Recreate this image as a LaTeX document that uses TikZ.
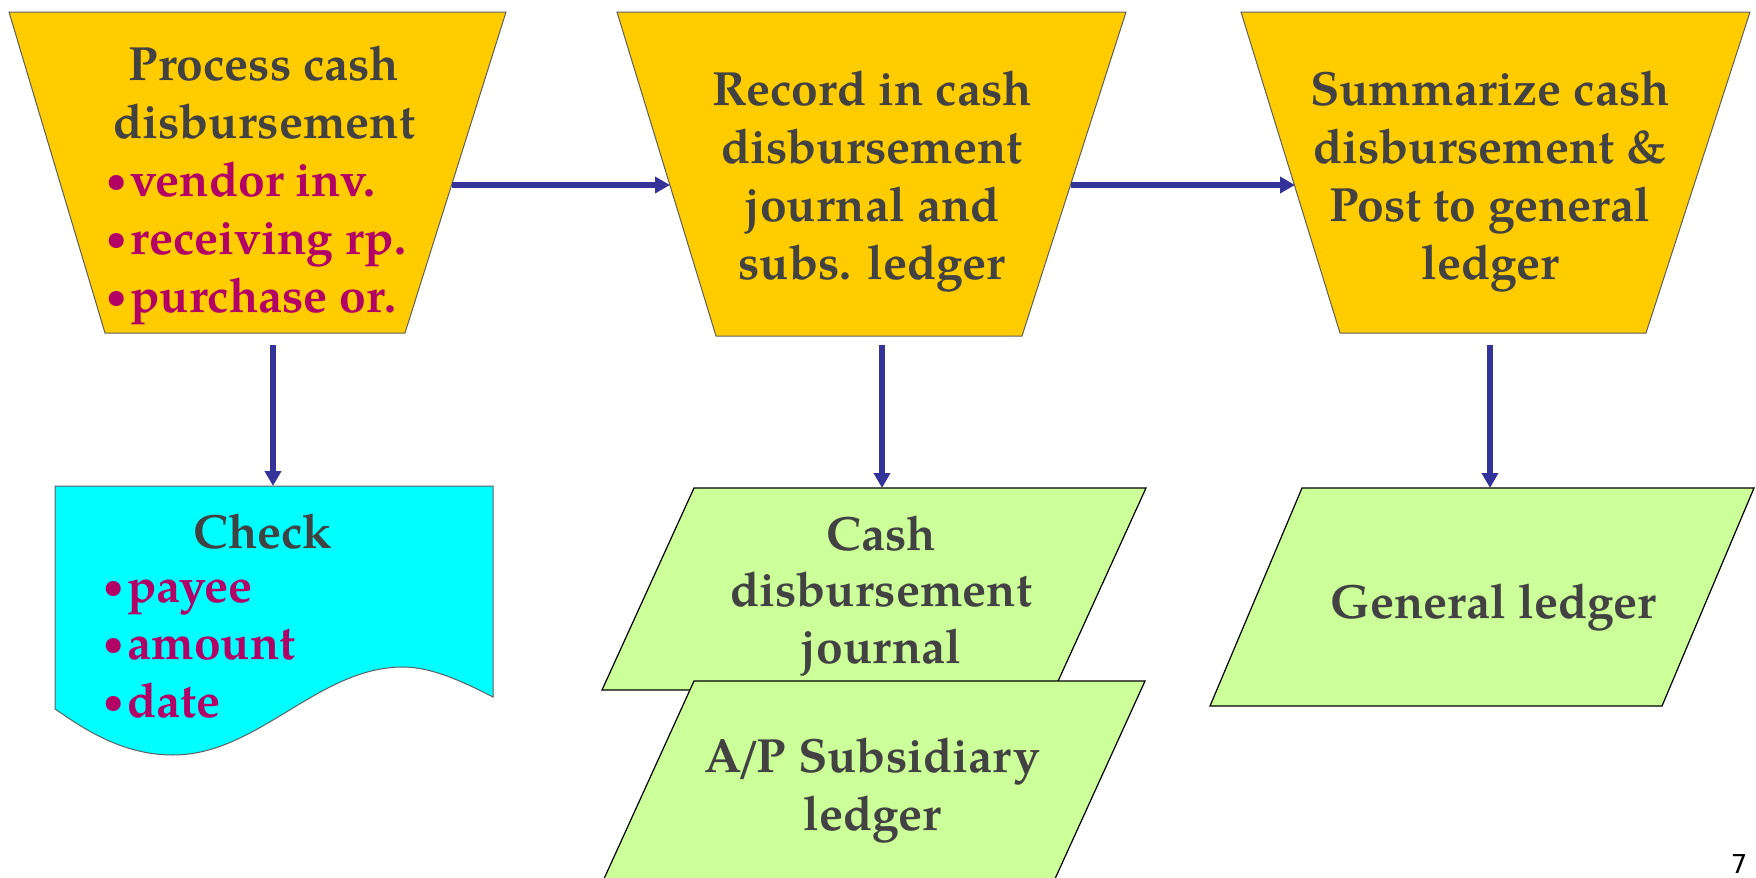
\documentclass[tikz,border=0pt]{standalone}
\usepackage{fontspec}
\setmainfont{texgyrepagella}[Extension=.otf, UprightFont=*-regular, BoldFont=*-bold,
  ItalicFont=*-italic, BoldItalicFont=*-bolditalic]
\newfontfamily\pagefont{DejaVu Sans}
\usetikzlibrary{arrows.meta}

\definecolor{procfill}{RGB}{255,204,0}
\definecolor{docfill}{RGB}{0,255,255}
\definecolor{ledgerfill}{RGB}{204,255,153}
\definecolor{labelgray}{RGB}{66,66,66}
\definecolor{itemred}{RGB}{179,0,102}
\definecolor{flowblue}{RGB}{51,51,153}
\definecolor{edgegray}{RGB}{95,95,95}

% stacked lines whose baseline is the first line
\newcommand\stack[2]{\begin{tabular}[t]{@{}#1@{}}#2\end{tabular}}
% list item with a small raised bullet and a fixed indent
\newcommand\itm[1]{\textcolor{itemred}{\makebox[12pt][l]{\raisebox{2.4pt}{\fontsize{17}{17}\selectfont•}}#1}}

\begin{document}
\begin{tikzpicture}[x=0.5pt,y=-0.5pt,
  procbox/.style={fill=procfill, draw=edgegray, line width=0.5pt},
  ledgerbox/.style={fill=ledgerfill, draw=black, line width=0.6pt},
  docbox/.style={fill=docfill, draw=edgegray, line width=0.5pt},
  flow/.style={draw=flowblue, line width=2.6pt, -{Triangle[length=7.5pt,width=8pt]}},
  lbl/.style={text=labelgray, inner sep=0pt, font=\fontsize{24}{29}\selectfont\bfseries},
]
\useasboundingbox (0,0) rectangle (1756,878);

% processing steps (inverted trapezoids)
\path[procbox] (9,12) -- (506,12) -- (405,333) -- (105,333) -- cycle;
\path[procbox] (617,12) -- (1126,12) -- (1022,336) -- (716,336) -- cycle;
\path[procbox] (1241,12) -- (1750,12) -- (1646,333) -- (1340,333) -- cycle;

% check document with wavy lower edge
\path[docbox] (55,486) -- (493,486) -- (493,697)
  .. controls (460,680) and (430,667) .. (403,667)
  .. controls (318,667) and (258,755) .. (173,755)
  .. controls (120,755) and (80,726) .. (55,709) -- cycle;

% ledgers (parallelograms)
\path[ledgerbox] (694,488) -- (1146,488) -- (1054,690) -- (602,690) -- cycle;
\path[ledgerbox] (694,681) -- (1145,681) -- (1054,881) -- (603,881) -- cycle;
\path[ledgerbox] (1302,488) -- (1754,488) -- (1662,706) -- (1210,706) -- cycle;

% labels
\node[lbl, anchor=base] (proc) at (264,80) {\stack{c}{Process cash\\disbursement}};
\node[lbl, anchor=base west] (procitems) at (106,196)
  {\stack{l}{\itm{vendor inv.}\\\itm{receiving rp.}\\\itm{purchase or.}}};
\node[lbl, anchor=base] (record) at (872,105)
  {\stack{c}{Record in cash\\disbursement\\journal and\\subs. ledger}};
\node[lbl, anchor=base] (summ) at (1490,105)
  {\stack{c}{Summarize cash\\disbursement \&\\Post to general\\ledger}};

\node[lbl, anchor=base] (check) at (263,548) {Check};
\node[lbl, anchor=base west, font=\fontsize{24}{28.75}\selectfont\bfseries] (checkitems) at (103,602)
  {\stack{l}{\itm{payee}\\\itm{amount}\\\itm{date}}};

\node[lbl, anchor=base, font=\fontsize{24}{28.25}\selectfont\bfseries] (cdj) at (881,550)
  {\stack{c}{Cash\\disbursement\\journal}};
\node[lbl, anchor=base] (apsub) at (872,772)
  {\stack{c}{A\kern-2.5pt/\kern-2pt P Subsidiary\\ledger}};
\node[lbl, anchor=base] (gl) at (1493,618) {General ledger};

\node[inner sep=0pt, anchor=base, font=\pagefont\fontsize{13}{16}\selectfont] (pageno) at (1739,873) {7};

% connector ends
\coordinate (procE)   at (452,185);
\coordinate (recordW) at (670,185);
\coordinate (recordE) at (1071,185);
\coordinate (summW)   at (1295,185);
\coordinate (procS)   at (273,345);
\coordinate (checkN)  at (273,486);
\coordinate (recordS) at (882,345);
\coordinate (cdjN)    at (882,488);
\coordinate (summS)   at (1490,345);
\coordinate (glN)     at (1490,488);

\draw[flow] (procE) -- (recordW);
\draw[flow] (recordE) -- (summW);
\draw[flow] (procS) -- (checkN);
\draw[flow] (recordS) -- (cdjN);
\draw[flow] (summS) -- (glN);
\end{tikzpicture}
\end{document}
